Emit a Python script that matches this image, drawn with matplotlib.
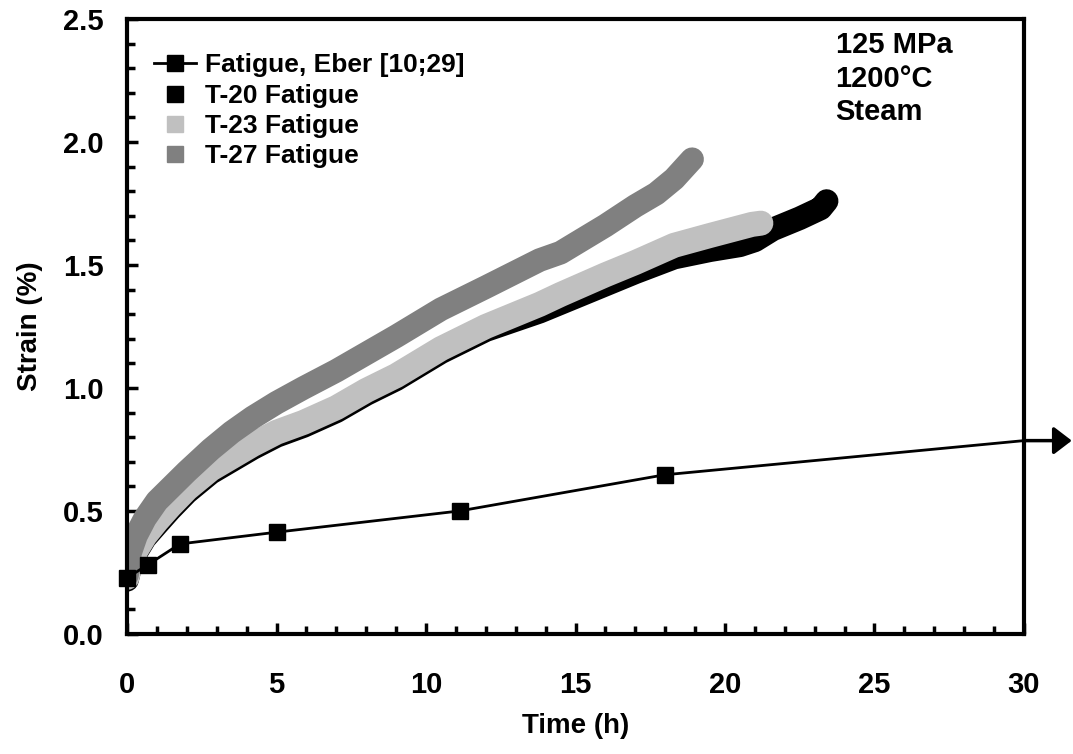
"""Creep strain vs time under fatigue loading, 125 MPa / 1200C / steam."""
import matplotlib
matplotlib.use("Agg")
import matplotlib.pyplot as plt
from matplotlib.lines import Line2D

# Eber reference data (runout marked by the arrow at 30 h)
eber_time = [0, 0.69, 1.77, 5.02, 11.12, 17.98]
eber_strain = [0.228, 0.281, 0.366, 0.414, 0.50, 0.647]
runout_time = 30
runout_strain = 0.786

# T-20 fatigue (black band)
t20_time = [0, 0.1, 0.3, 0.6, 1.0, 1.44, 2.0, 2.8, 3.5, 4.2, 5.0, 5.9, 7.0,
            8.0, 9.0, 10.5, 12.0, 13.8, 15.0, 16.0, 17.0, 18.3, 19.5, 20.5,
            21.0, 21.6, 22.5, 23.2, 23.4]
t20_strain = [0.22, 0.27, 0.33, 0.39, 0.445, 0.505, 0.575, 0.655, 0.705,
              0.755, 0.805, 0.845, 0.905, 0.975, 1.035, 1.145, 1.235, 1.31,
              1.37, 1.42, 1.47, 1.53, 1.56, 1.58, 1.60, 1.645, 1.69, 1.73,
              1.76]

# T-23 fatigue (light grey band)
t23_time = [0, 0.1, 0.3, 0.6, 1.0, 1.44, 2.0, 2.8, 3.5, 4.2, 5.0, 5.9, 7.0,
            8.0, 9.0, 10.5, 12.0, 13.8, 14.5, 16.0, 17.0, 18.3, 19.5, 20.9,
            21.2]
t23_strain = [0.23, 0.28, 0.34, 0.40, 0.46, 0.52, 0.59, 0.67, 0.72, 0.77,
              0.82, 0.86, 0.92, 0.99, 1.05, 1.16, 1.25, 1.34, 1.38, 1.46,
              1.51, 1.58, 1.62, 1.665, 1.67]

# T-27 fatigue (dark grey band)
t27_time = [0, 0.1, 0.3, 0.6, 1.0, 1.5, 2.0, 2.8, 3.5, 4.2, 5.0, 5.9, 7.0,
            8.0, 9.0, 10.5, 12.0, 13.8, 14.5, 16.0, 17.0, 17.7, 18.3, 18.9]
t27_strain = [0.24, 0.33, 0.40, 0.47, 0.54, 0.60, 0.66, 0.75, 0.82, 0.88,
              0.94, 1.00, 1.07, 1.14, 1.21, 1.32, 1.41, 1.52, 1.55, 1.66,
              1.74, 1.79, 1.85, 1.93]

labels = ["Fatigue, Eber [10;29]", "T-20 Fatigue", "T-23 Fatigue",
          "T-27 Fatigue"]
colors = ["black", "black", "#c0c0c0", "#808080"]

plt.rcParams["font.family"] = ["Liberation Sans", "DejaVu Sans"]
plt.rcParams["font.weight"] = "bold"

fig = plt.figure(figsize=(10.73, 7.54), dpi=100)
ax = fig.add_axes([0.1184, 0.1592, 0.8359, 0.8156])

# test data drawn as thick bands
band = dict(solid_capstyle="round", solid_joinstyle="round")
ax.plot(t20_time, t20_strain, color=colors[1], lw=17, zorder=2, **band)
ax.plot(t23_time, t23_strain, color=colors[2], lw=18, zorder=3, **band)
ax.plot(t27_time, t27_strain, color=colors[3], lw=17, zorder=4, **band)

# Eber curve + runout
ax.plot([eber_time[-1], runout_time], [eber_strain[-1], runout_strain],
        color="black", lw=2, zorder=5, clip_on=False)
ax.plot(eber_time, eber_strain, color="black", lw=2, marker="s",
        markersize=11, zorder=6, clip_on=False)
ax.annotate("", xy=(31.6, runout_strain), xytext=(runout_time, runout_strain),
            arrowprops=dict(arrowstyle="-|>,head_length=0.55,head_width=0.42",
                            color="black", lw=2.5, mutation_scale=20,
                            shrinkA=0, shrinkB=0),
            annotation_clip=False, zorder=6)

ax.set_xlim(0, 30)
ax.set_ylim(0, 2.5)
ax.set_xticks(range(0, 31, 5))
ax.set_xticks(range(0, 31), minor=True)
ax.set_yticks([0, 0.5, 1.0, 1.5, 2.0, 2.5])
ax.set_yticks([i / 10 for i in range(26)], minor=True)
ax.set_yticklabels(["0.0", "0.5", "1.0", "1.5", "2.0", "2.5"])
ax.tick_params(axis="both", which="both", direction="in", width=2.5,
               labelsize=21, top=False, right=False)
ax.tick_params(axis="both", which="major", length=8)
ax.tick_params(axis="both", which="minor", length=6)
ax.tick_params(axis="x", which="major", pad=27)
ax.tick_params(axis="y", which="major", pad=17)
for spine in ax.spines.values():
    spine.set_linewidth(3)
    spine.set_zorder(7)

ax.set_xlabel("Time (h)", fontsize=20, fontweight="bold", labelpad=10)
ax.set_ylabel("Strain (%)", fontsize=20, fontweight="bold", labelpad=14)

ax.text(23.7, 2.45, "125 MPa\n1200°C\nSteam", fontsize=21,
        fontweight="bold", va="top", ha="left", linespacing=1.25)

handles = [
    Line2D([], [], color="black", lw=2, marker="s", markersize=12),
    Line2D([], [], color=colors[1], lw=0, marker="s", markersize=12),
    Line2D([], [], color=colors[2], lw=0, marker="s", markersize=12),
    Line2D([], [], color=colors[3], lw=0, marker="s", markersize=12),
]
ax.legend(handles, labels, loc="upper left", bbox_to_anchor=(0.03, 0.944),
          frameon=False, handlelength=1.6, handletextpad=0.33,
          labelspacing=0.24, borderpad=0, borderaxespad=0,
          prop={"weight": "bold", "size": 19})

fig.savefig("out.png", dpi=100)
